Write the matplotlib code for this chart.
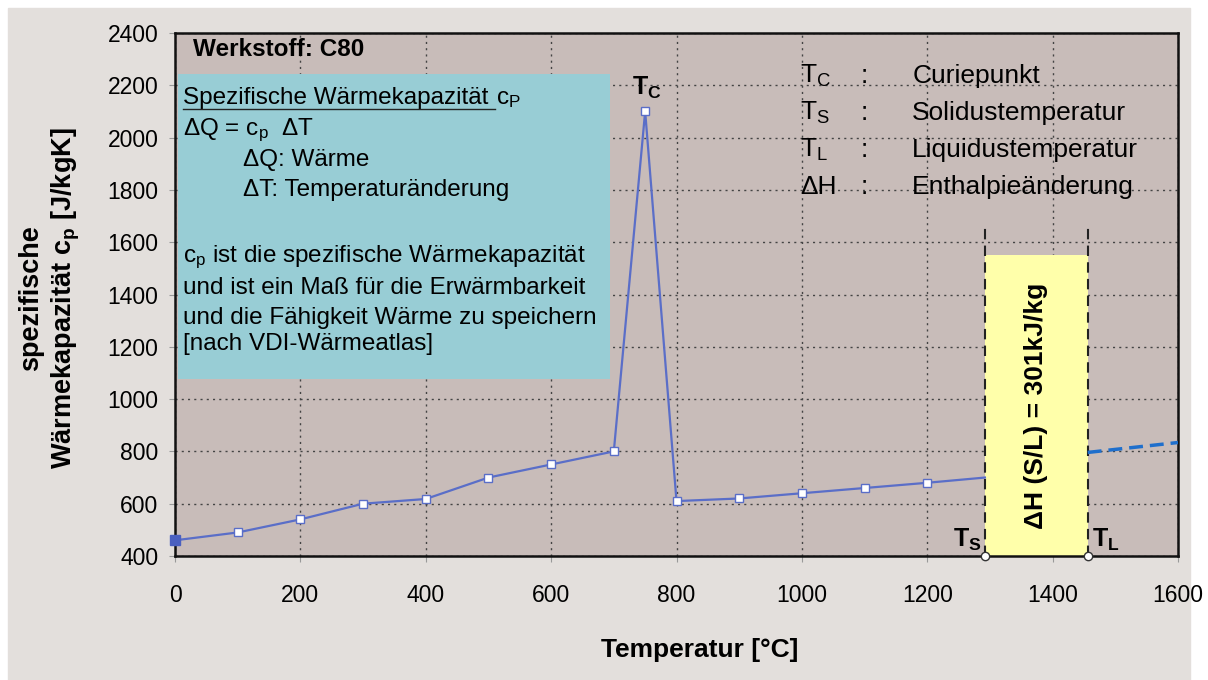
import numpy as np
import matplotlib.pyplot as plt
from matplotlib.patches import Rectangle
from matplotlib.lines import Line2D

plt.rcParams['font.family'] = ['Liberation Sans', 'DejaVu Sans']
plt.rcParams['mathtext.default'] = 'regular'

# data
temp = [0, 100, 200, 300, 400, 500, 600, 700, 750, 800, 900, 1000, 1100, 1200, 1292]
cp = [460, 490, 540, 600, 618, 700, 750, 800, 2100, 610, 620, 640, 660, 680, 700]
temp_liq = [1456, 1600]
cp_liq = [796, 834]
t_s = 1292
t_l = 1456
dh_top = 1552
dh_line_top = 1665
xticks = [0, 200, 400, 600, 800, 1000, 1200, 1400, 1600]
yticks = [400, 600, 800, 1000, 1200, 1400, 1600, 1800, 2000, 2200, 2400]

legend_sym = ['T$_C$', 'T$_S$', 'T$_L$', '\u0394H']
legend_txt = ['Curiepunkt', 'Solidustemperatur', 'Liquidustemperatur', 'Enthalpieänderung']

W, H = 1208, 680
fig = plt.figure(figsize=(W / 100, H / 100), dpi=100, facecolor='white')
fig.patches.append(Rectangle((8 / W, 0), (1190 - 8) / W, 1 - 8 / H,
                             transform=fig.transFigure, color='#e3dfdc', zorder=-10))
ax = fig.add_axes([175 / W, 1 - 556 / H, (1178 - 175) / W, (556 - 33) / H])
ax.set_facecolor('#c8bcb9')
ax.set_xlim(0, 1600)
ax.set_ylim(400, 2400)
ax.set_xticks(xticks)
ax.set_yticks(yticks)
ax.tick_params(axis='x', length=4, color='#999999', pad=16, labelsize=16.5)
ax.tick_params(axis='y', length=4, color='#999999', pad=8, labelsize=16.5)
ax.grid(True, linestyle=(0, (1.5, 3)), color='#444444', linewidth=1)
ax.set_axisbelow(True)
for s in ax.spines.values():
    s.set_color('#111111')
    s.set_linewidth(1.8)

# info box
ax.add_patch(Rectangle((5, 1076), 689, 2243 - 1076, facecolor='#98cdd5',
                       edgecolor='none', zorder=1.5))
# enthalpy box
ax.add_patch(Rectangle((t_s, 400), t_l - t_s, dh_top - 400, facecolor='#ffffaa',
                       edgecolor='none', zorder=1.5))
for xv in (t_s, t_l):
    ax.plot([xv, xv], [400, dh_line_top], color='#222222', lw=1.5,
            linestyle=(0, (5, 3)), zorder=2)
ax.plot([t_s, t_l], [400, 400], 'o', ms=6, mfc='white', mec='#333333',
        mew=1, clip_on=False, zorder=5)

# curve
ax.plot(temp, cp, color='#5a6ec8', lw=1.6, marker='s', ms=6, mfc='white',
        mec='#5a6ec8', mew=1, markevery=list(range(1, len(temp) - 1)), zorder=3)
ax.plot(temp[0], cp[0], 's', color='#4a60c0', ms=7, clip_on=False, zorder=4)
ax.plot(temp_liq, cp_liq, color='#1f6fcc', lw=2.5, linestyle=(0, (4, 2)), zorder=3)

# texts
ax.text(29, 2335, 'Werkstoff: C80', fontsize=17.5, fontweight='bold', va='center')
ax.text(752, 2190, 'T$_C$', fontsize=18, fontweight='bold', ha='center', va='center')
ax.text(1286, 462, 'T$_S$', fontsize=18, fontweight='bold', ha='right', va='center')
ax.text(1463, 462, 'T$_L$', fontsize=18, fontweight='bold', ha='left', va='center')
ax.text((t_s + t_l) / 2, 975, '\u0394H (S/L) = 301kJ/kg', fontsize=19,
        fontweight='bold', rotation=90, ha='center', va='center')

ys = [2236, 2095, 1952, 1812]
for sym, txt, yv in zip(legend_sym, legend_txt, ys):
    ax.text(997, yv, sym, fontsize=19, va='center')
    ax.text(1093, yv, ':', fontsize=19, va='center')
    ax.text(1176, yv, txt, fontsize=19, va='center')

box_fs = 17.5
t1 = ax.text(13, 2127, 'Spezifische Wärmekapazität', fontsize=box_fs, va='baseline',
             zorder=4)
lines = [
    (13, 2010, '\u0394Q = c$_p$  \u0394T'),
    (108, 1893, '\u0394Q: Wärme'),
    (108, 1778, '\u0394T: Temperaturänderung'),
    (13, 1525, 'c$_p$ ist die spezifische Wärmekapazität'),
    (13, 1400, 'und ist ein Maß für die Erwärmbarkeit'),
    (13, 1288, 'und die Fähigkeit Wärme zu speichern'),
    (13, 1188, '[nach VDI-Wärmeatlas]'),
]
for xv, yv, s in lines:
    ax.text(xv, yv, s, fontsize=box_fs, va='baseline', zorder=4)

fig.canvas.draw()
bb = t1.get_window_extent()
inv = ax.transData.inverted()
x0, y0 = inv.transform((bb.x0, bb.y0))
x1, _ = inv.transform((bb.x1 + 6, bb.y0))
ax.add_line(Line2D([x0, x1], [2127 - 16, 2127 - 16], color='#222222', lw=1, zorder=4))
ax.text(x1 + 2, 2127, 'c$_P$', fontsize=box_fs, va='baseline', zorder=4)

fig.text(50 / W, 1 - 298 / H, 'spezifische\nWärmekapazität c$_p$ [J/kgK]',
         fontsize=19.5, fontweight='bold', rotation=90, ha='center', va='center',
         multialignment='center', linespacing=1.25)
fig.text(700 / W, 1 - 650 / H, 'Temperatur [°C]', fontsize=19, fontweight='bold',
         ha='center', va='center')

fig.savefig('out.png', dpi=100, facecolor=fig.get_facecolor())
